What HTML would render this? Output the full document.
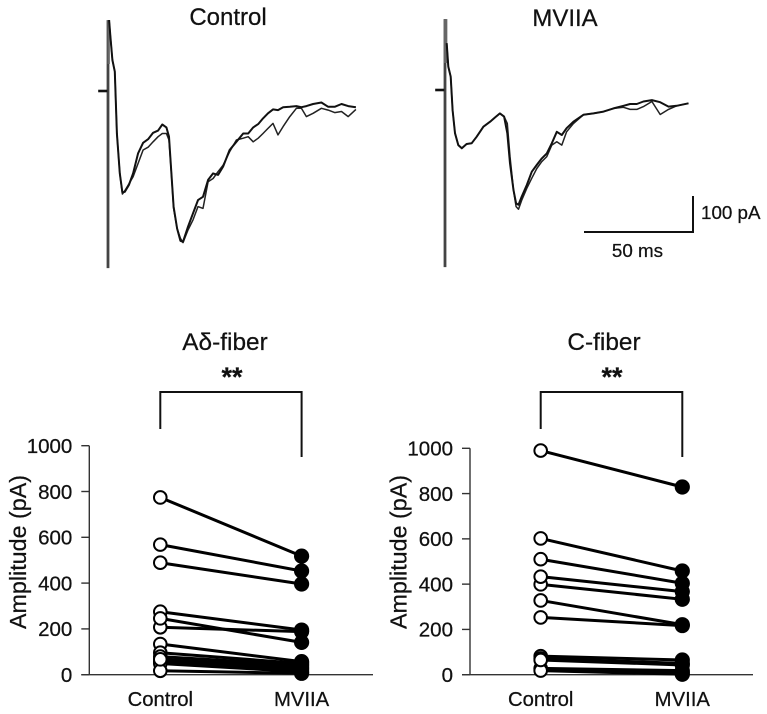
<!DOCTYPE html>
<html lang="en">
<head>
<meta charset="utf-8">
<title>Amplitude before and after MVIIA</title>
<style>
html,body{margin:0;padding:0;background:#fff;}
svg{display:block;}
text{font-family:"Liberation Sans",Arial,sans-serif;fill:#111;stroke:#111;stroke-width:0.25px;}
</style>
</head>
<body>
<svg id="fig" xmlns="http://www.w3.org/2000/svg" width="767" height="714" viewBox="0 0 767 714"></svg>
<script>
// ---- Paired amplitude data (pA) ----
const categories = ['Control', 'MVIIA'];
const yTicks = [0, 200, 400, 600, 800, 1000];
const adeltaControl = [774, 568, 489, 275, 207, 246, 134, 96, 79, 57, 49, 17, 67];
const adeltaMviia   = [518, 453, 396, 195, 188, 141, 57, 49, 42, 23, 13, 6, 32];
const cfiberControl = [990, 602, 510, 399, 433, 328, 253, 82, 72, 28, 24, 18, 65];
const cfiberMviia   = [829, 458, 404, 333, 367, 221, 217, 65, 50, 18, 9, 2, 43];

// ---- Evoked current traces: time (ms), current (pA) ----
const controlTime = [0.5,1.1,2.0,3.1,4.1,5.4,6.6,7.7,9.6,11.5,13.8,16.1,18.4,20.7,23.0,24.9,26.8,28.0,29.1,30.1,31.7,33.2,34.4,36.7,39.0,41.3,43.6,45.9,48.2,50.5,52.8,55.8,58.9,62.0,64.3,66.6,68.9,71.1,73.4,75.7,78.0,80.3,83.4,86.4,88.7,91.0,94.1,97.9,101.0,104.0,107.1,110.2,113.7];
const controlTraceA = [197,151,86,54,-118,-229,-282,-280,-261,-229,-173,-144,-134,-116,-110,-93,-101,-127,-229,-321,-382,-416,-419,-377,-340,-303,-294,-247,-229,-233,-210,-164,-141,-118,-118,-101,-92,-76,-62,-51,-53,-45,-44,-42,-45,-42,-36,-32,-44,-44,-36,-42,-45];
const controlTraceB = [197,151,86,54,-118,-229,-286,-277,-258,-238,-201,-164,-156,-141,-127,-118,-118,-136,-229,-326,-382,-409,-421,-386,-358,-321,-326,-252,-243,-224,-206,-169,-136,-131,-127,-141,-131,-118,-104,-90,-122,-99,-71,-48,-48,-71,-62,-48,-53,-60,-57,-71,-51];
const mviiaTime = [0.8,1.5,2.6,3.5,4.6,6.1,7.7,9.9,12.2,14.5,17.6,20.7,23.0,25.2,27.1,28.6,29.8,31.4,32.6,33.7,35.2,37.5,39.8,42.1,44.4,46.7,49.0,51.3,53.6,55.8,58.9,63.5,68.1,72.7,77.3,81.9,84.9,88.0,91.0,94.9,98.7,102.5,106.3,111.7];
const mviiaTraceA = [130,65,37,-56,-120,-153,-162,-150,-148,-130,-102,-88,-76,-65,-74,-120,-204,-278,-315,-319,-296,-264,-227,-208,-190,-176,-148,-116,-125,-106,-88,-69,-65,-60,-51,-44,-39,-39,-32,-28,-34,-46,-44,-37];
const mviiaTraceB = [130,65,37,-56,-120,-153,-162,-150,-148,-130,-102,-88,-76,-65,-74,-93,-185,-278,-324,-331,-306,-273,-245,-218,-199,-185,-153,-144,-153,-116,-93,-69,-65,-60,-51,-48,-54,-54,-46,-32,-68,-54,-44,-37];
const artifactExtent = [197, -492];
const baselineTime = [-4.5, -0.3];

const SVGNS = 'http://www.w3.org/2000/svg';
const fig = document.getElementById('fig');
function mk(tag, attrs, parent, txt) {
  const n = document.createElementNS(SVGNS, tag);
  for (const k in attrs) n.setAttribute(k, attrs[k]);
  if (txt !== undefined) n.textContent = txt;
  (parent || fig).appendChild(n);
  return n;
}
function pts(xs, ys, fx, fy) {
  return xs.map((v, i) => fx(v).toFixed(1) + ',' + fy(ys[i]).toFixed(1)).join(' ');
}

function drawTrace(prefix, x0, y0, title, titleX, titleY, time, a, b, artTopW) {
  const tx = t => x0 + 2.18 * t;
  const ty = v => y0 - 0.36 * v;
  const g = mk('g', {});
  
  
  const ttl = mk('text', {x: titleX, y: titleY, 'text-anchor': 'middle', 'font-size': 24}, g, title);
  
  
  const art = mk('line', {x1: tx(0), x2: tx(0), y1: ty(artifactExtent[0]), y2: ty(artifactExtent[1]), stroke: '#444', 'stroke-width': 2.8}, g);
  
  
  const artTop = mk('line', {x1: tx(0.3), x2: tx(0.3), y1: ty(artifactExtent[0]), y2: ty(75), stroke: '#666', 'stroke-width': artTopW}, g);
  
  
  const base = mk('line', {x1: tx(baselineTime[0]), x2: tx(baselineTime[1]), y1: ty(0), y2: ty(0), stroke: '#111', 'stroke-width': 2.6}, g);
  
  
  const lb = mk('polyline', {points: pts(time, b, tx, ty), fill: 'none', stroke: '#222', 'stroke-width': 1.5, 'stroke-linejoin': 'round'}, g);
  
  
  const la = mk('polyline', {points: pts(time, a, tx, ty), fill: 'none', stroke: '#111', 'stroke-width': 2, 'stroke-linejoin': 'round'}, g);
  
  
}

function drawPaired(prefix, cfg, ctrl, mv) {
  const sy = v => cfg.y0 - v * (cfg.y0 - cfg.y1000) / 1000;
  const sx = i => i === 0 ? cfg.xC : cfg.xM;
  const g = mk('g', {});
  
  

  const ttl = mk('text', {x: cfg.titleX, y: 350, 'text-anchor': 'middle', 'font-size': 24.4}, g, cfg.title);
  
  
  const star = mk('text', {x: cfg.starX, y: 386, 'text-anchor': 'middle', 'font-size': 27, 'font-weight': 'bold'}, g, '**');
  
  
  const br = mk('polyline', {points: sx(0) + ',429 ' + sx(0) + ',392 ' + sx(1) + ',392 ' + sx(1) + ',457', fill: 'none', stroke: '#111', 'stroke-width': 2}, g);
  
  

  const yAxis = mk('line', {x1: cfg.axisX, x2: cfg.axisX, y1: sy(1000), y2: sy(0), stroke: '#333', 'stroke-width': 1.4}, g);
  
  
  const xAxis = mk('line', {x1: cfg.axisX - 8, x2: cfg.axisEnd, y1: sy(0), y2: sy(0), stroke: '#333', 'stroke-width': 1.4}, g);
  
  

  yTicks.forEach(t => {
    const tk = mk('line', {x1: cfg.axisX - 8, x2: cfg.axisX, y1: sy(t), y2: sy(t), stroke: '#333', 'stroke-width': 1.4}, g);
    
    
    const lb = mk('text', {x: cfg.axisX - 17, y: sy(t) + 7.3, 'text-anchor': 'end', 'font-size': 20.5}, g, String(t));
    
    
  });
  const yt = mk('text', {transform: 'translate(' + cfg.yTitleX + ',552) rotate(-90)', 'text-anchor': 'middle', 'font-size': 23.3}, g, 'Amplitude (pA)');
  
  
  categories.forEach((c, i) => {
    const lb = mk('text', {x: sx(i), y: 706, 'text-anchor': 'middle', 'font-size': 20.3}, g, c);
    
    
  });

  ctrl.forEach((v, i) => {
    const ln = mk('line', {x1: sx(0), x2: sx(1), y1: sy(v), y2: sy(mv[i]), stroke: '#000', 'stroke-width': 3}, g);
    
    
  });
  ctrl.forEach((v, i) => {
    const f = mk('circle', {cx: sx(1), cy: sy(mv[i]), r: 7.6, fill: '#000'}, g);
    
    
  });
  ctrl.forEach(v => {
    const o = mk('circle', {cx: sx(0), cy: sy(v), r: 6.3, fill: '#fff', stroke: '#000', 'stroke-width': 2}, g);
    
    
  });
}

drawTrace('control', 108, 91, 'Control', 228, 25, controlTime, controlTraceA, controlTraceB, 2.4);
drawTrace('mviia', 445, 90, 'MVIIA', 565, 26, mviiaTime, mviiaTraceA, mviiaTraceB, 3.4);

// Scale bar
const scaleG = mk('g', {});


const scaleLine = mk('polyline', {points: '584,232 693,232 693,196', fill: 'none', stroke: '#111', 'stroke-width': 2}, scaleG);


const scaleY = mk('text', {x: 701, y: 219, 'font-size': 18.8}, scaleG, '100 pA');


const scaleX = mk('text', {x: 637.5, y: 257, 'text-anchor': 'middle', 'font-size': 18.8}, scaleG, '50 ms');



drawPaired('adelta', {title: 'Aδ-fiber', titleX: 225, starX: 232, y0: 674.7, y1000: 445.7, axisX: 89.3, axisEnd: 373, xC: 160.3, xM: 301.6, yTitleX: 26}, adeltaControl, adeltaMviia);
drawPaired('cfiber', {title: 'C-fiber', titleX: 604, starX: 612, y0: 674.7, y1000: 448.3, axisX: 470, axisEnd: 753, xC: 540.7, xM: 682.3, yTitleX: 406.7}, cfiberControl, cfiberMviia);
</script>
</body>
</html>
